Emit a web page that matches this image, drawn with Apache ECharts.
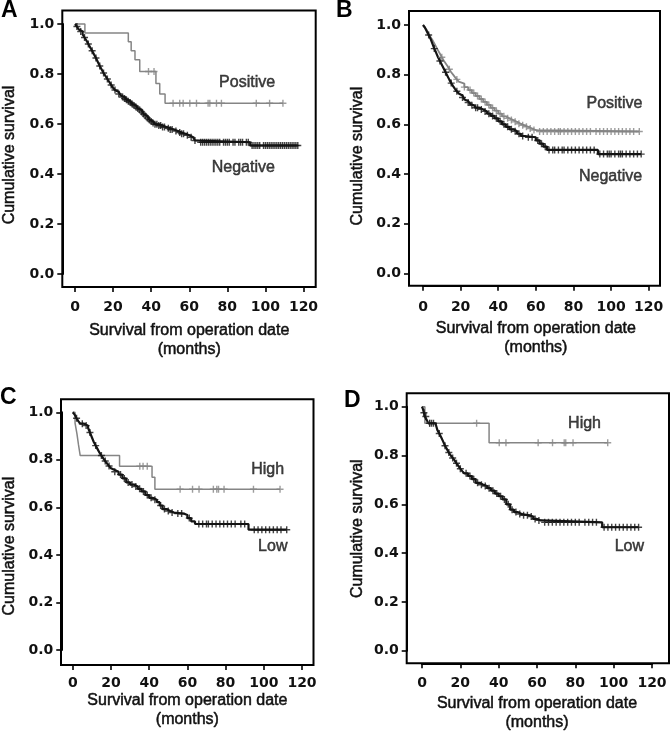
<!DOCTYPE html>
<html><head><meta charset="utf-8">
<script src="https://cdn.jsdelivr.net/npm/echarts@6/dist/echarts.min.js"></script>
<style>html,body{margin:0;padding:0;background:#fff}#c{width:670px;height:734px}</style>
</head><body><div id="c"></div>
<script>
// ---------- data ----------
const panelLetters = ['A', 'B', 'C', 'D'];
const xTickMin = 0, xTickMax = 120, xTickStep = 20;
const yTickMin = 0, yTickMax = 1, yTickStep = 0.2;
const xTitle = 'Survival from operation date\n(months)';
const yTitle = 'Cumulative survival';
const groupNames = [['Positive', 'Negative'], ['Positive', 'Negative'], ['High', 'Low'], ['High', 'Low']];
const pValues = ['0.103', '0.214', '0.351', '0.043'];

// Panel A
const aNegEvents = [[0,1],[0.5,0.995],[1,0.99],[1.5,0.985],[2,0.978],[3,0.97],[4,0.958],[5,0.946],[6,0.934],[7,0.92],[8,0.906],[9,0.893],[10,0.878],[11,0.864],[12,0.848],[13,0.832],[14,0.818],[15,0.804],[16,0.792],[17,0.78],[18,0.768],[19,0.756],[20,0.745],[21,0.736],[22,0.728],[23,0.72],[24,0.714],[25,0.708],[26,0.702],[27,0.697],[28,0.691],[29,0.686],[30,0.68],[31,0.674],[32,0.668],[33,0.662],[34,0.656],[35,0.648],[36,0.64],[37,0.632],[38,0.624],[39,0.617],[40,0.61],[41,0.604],[42,0.599],[44,0.594],[46,0.588],[48,0.583],[50,0.578],[52,0.572],[54,0.566],[56,0.561],[58,0.555],[60,0.547],[62,0.54],[63,0.534],[65,0.527],[92,0.514]];
const aNegCensor = [1,3,5,7,9,11,13,15,17,19,21,23,25,26,27,28,29,30,31,32,33,34,35,36,37,38,39,40,41,42,43,44,45,46,47,49,50,51,53,55,56,57,59,61,63,66,67,68,69,70,71,72,73,74,75,76,78,79,80,81,83,84,86,87,88,90,91,93,94,95,96,97,99,100,101,102,103,104,105,106,107,108,109,110,111,112,113,114,115,116,117];
const aPosEvents = [[0,1],[5.2,0.964],[28,0.929],[29.5,0.893],[31.5,0.857],[34,0.81],[42.5,0.762],[44.5,0.72],[47.3,0.683]];
const aPosCensor = [38.6,41.5,51.5,55,56.8,60.3,63.8,69.9,70.8,74.3,76.9,95.2,102.2,109.2];

// Panel B
const bNegEvents = [[0,1],[1,0.99],[2,0.975],[3,0.96],[4,0.945],[5,0.925],[6,0.905],[7,0.888],[8,0.87],[9,0.855],[10,0.84],[11,0.825],[12,0.81],[13,0.795],[14,0.78],[15,0.766],[16,0.754],[17,0.743],[18,0.733],[19,0.724],[20,0.716],[21,0.708],[22,0.7],[23,0.694],[24,0.688],[25,0.682],[26,0.677],[27,0.672],[28,0.667],[30,0.66],[32,0.652],[34,0.643],[36,0.634],[38,0.624],[40,0.612],[42,0.6],[44,0.59],[46,0.58],[48,0.572],[50,0.562],[52,0.553],[54,0.548],[60,0.535],[62,0.522],[64,0.51],[66,0.497],[93,0.48]];
const bNegCensor = [3,6,9,12,15,18,21,24,26,28,29,31,33,35,37,39,41,43,45,47,49,51,53,56,58,61,63,65,67,69,70,72,74,75,77,79,81,83,85,87,89,91,94,96,98,99,100,102,104,105,106,108,110,112,114,116];
const bPosEvents = [[0,1],[1,0.99],[2,0.98],[3,0.965],[4,0.952],[5,0.94],[6,0.926],[7,0.912],[8,0.898],[9,0.884],[10,0.87],[11,0.857],[12,0.846],[13,0.835],[14,0.822],[15,0.81],[16,0.8],[17,0.79],[18,0.781],[19,0.772],[20,0.764],[22,0.75],[24,0.738],[26,0.726],[28,0.714],[30,0.702],[32,0.69],[34,0.678],[36,0.666],[38,0.655],[40,0.643],[42,0.632],[44,0.624],[46,0.617],[48,0.61],[50,0.602],[52,0.596],[54,0.59],[56,0.583],[58,0.577],[60,0.571]];
const bPosCensor = [10,14,18,22,25,27,29,31,33,35,37,39,41,43,45,47,49,51,53,55,57,59,62,64,66,68,70,72,73,75,77,79,81,83,85,87,89,92,94,96,98,100,102,104,106,108,110,112,115];

// Panel C
const cLowEvents = [[0,1],[1,0.99],[2,0.975],[3,0.962],[4,0.952],[6,0.944],[8,0.935],[9,0.915],[10,0.895],[11,0.875],[12,0.86],[13,0.845],[14,0.83],[15,0.818],[16,0.806],[17,0.795],[18,0.784],[19,0.774],[20,0.765],[21,0.757],[22,0.75],[24,0.738],[26,0.722],[28,0.705],[30,0.696],[32,0.688],[34,0.678],[36,0.667],[38,0.652],[40,0.64],[42,0.632],[44,0.622],[45.5,0.608],[47,0.593],[49,0.585],[51,0.578],[53,0.574],[58,0.568],[60,0.555],[62,0.541],[64,0.53],[92,0.506]];
const cLowCensor = [2,5,7,9,12,15,17,19,22,25,27,29,31,33,35,37,39,41,43,46,48,50,52,55,57,61,66,68,70,71,73,75,77,79,81,83,85,88,90,95,97,99,101,103,105,107,109,112];
const cHighEvents = [[0,1],[1.2,0.955],[2.2,0.909],[3,0.864],[3.9,0.818],[24.5,0.773],[41.5,0.727],[43,0.676]];
const cHighCensor = [35.1,36.8,39,56.2,62.7,66.1,73.6,75.4,76.3,79.2,94.6,108.5];

// Panel D
const dLowEvents = [[0,1],[0.5,0.99],[1,0.975],[1.5,0.96],[2.5,0.945],[3.3,0.932],[7,0.925],[8,0.905],[9,0.89],[10,0.875],[11,0.858],[12,0.84],[13,0.826],[14,0.812],[15,0.8],[16,0.79],[17,0.78],[18,0.768],[19,0.757],[20,0.746],[21,0.736],[22,0.727],[24,0.716],[26,0.703],[28,0.688],[30,0.68],[32,0.675],[34,0.666],[36,0.656],[38,0.644],[40,0.633],[42,0.62],[44,0.6],[46,0.578],[48,0.568],[50,0.56],[52,0.555],[56,0.55],[58,0.54],[60,0.534],[62,0.526],[94,0.506]];
const dLowCensor = [1,2,4,5,6,9,12,14,16,18,20,23,25,27,29,31,33,35,37,39,41,43,45,47,49,51,53,55,57,59,61,64,66,68,70,72,74,76,78,80,82,85,87,89,91,95,97,99,101,103,105,107,109,111,113];
const dHighEvents = [[0,1],[1.5,0.932],[35,0.852]];
const dHighCensor = [4,28.5,40.3,43.8,60.6,68.1,74.2,75,78.8,96.9];

// ---------- layout & style ----------
const FRAMES = [ // outer box of each panel (px)
  {l:62.3, t:10.5, r:315.7, b:287},
  {l:409, t:11, r:660, b:285.7},
  {l:61, t:399.3, r:313.5, b:665},
  {l:406.7, t:393.3, r:669, b:663.3}
];
const PLOTS = [ // pixel span of the 0..120 x 0..1 tick range
  {l:75, t:24, r:303.5, b:274},
  {l:423, t:25, r:648.7, b:273.3},
  {l:72.5, t:412.3, r:302, b:650},
  {l:422, t:406.7, r:652, b:650.7}
];
const LAYOUT = [
  {xLabelMargin:13, xNameGap:34, yNameGap:45, yNameShift:12, letter:{x:1,y:-1}, labels:[[90.4,0.765],[88.4,0.427]], pPos:[120.5,0.036]},
  {xLabelMargin:15, xNameGap:33, yNameGap:43, yNameShift:14, letter:{x:336,y:-1}, labels:[[101.8,0.682],[99.7,0.389]], pPos:[125.5,0.0]},
  {xLabelMargin:11, xNameGap:26, yNameGap:44, yNameShift:30, letter:{x:0,y:386}, labels:[[102,0.757],[104.7,0.435]], pPos:[121.5,0.014]},
  {xLabelMargin:13, xNameGap:31, yNameGap:41, yNameShift:0, letter:{x:344,y:389}, labels:[[84.8,0.932],[108.2,0.426]], pPos:[124.5,0.016]}
];
const BLACK = '#141414', GRAY = '#858585';
const NUM_FONT = 'DejaVu Sans', TXT_FONT = 'Liberation Sans';
const heavy = {textBorderColor:'#111', textBorderWidth:0.5};

const curves = [
  [{ev:aPosEvents, cen:aPosCensor, color:GRAY, w:1.5}, {ev:aNegEvents, cen:aNegCensor, color:BLACK, w:2.2}],
  [{ev:bPosEvents, cen:bPosCensor, color:GRAY, w:1.8}, {ev:bNegEvents, cen:bNegCensor, color:BLACK, w:2.2}],
  [{ev:cHighEvents, cen:cHighCensor, color:GRAY, w:1.5}, {ev:cLowEvents, cen:cLowCensor, color:BLACK, w:2.2}],
  [{ev:dHighEvents, cen:dHighCensor, color:GRAY, w:1.5}, {ev:dLowEvents, cen:dLowCensor, color:BLACK, w:2.2}]
];

function survAt(ev, t) {
  let s = ev[0][1];
  for (const p of ev) { if (p[0] <= t) s = p[1]; else break; }
  return s;
}
const PLUS = 'path://M-1,-5H1V-1H5V1H1V5H-1V1H-5V-1H-1Z';

const grid = [], xAxis = [], yAxis = [], series = [], title = [];
FRAMES.forEach((f, i) => {
  const p = PLOTS[i], L = LAYOUT[i];
  // frame grid (index 2i)
  grid.push({left:f.l, top:f.t, width:f.r - f.l, height:f.b - f.t, show:true, borderColor:'#000', borderWidth:2, backgroundColor:'transparent', containLabel:false});
  xAxis.push({gridIndex:2*i, type:'value', show:false, min:0, max:1});
  yAxis.push({gridIndex:2*i, type:'value', show:false, min:0, max:1});
  // tick/plot grid (index 2i+1)
  grid.push({left:p.l, top:p.t, width:p.r - p.l, height:p.b - p.t, show:false, containLabel:false});
  xAxis.push({
    gridIndex:2*i+1, type:'value', min:xTickMin, max:xTickMax, interval:xTickStep,
    position:'bottom', offset:f.b - p.b,
    axisLine:{show:true, onZero:false, lineStyle:{color:'#000', width:2}}, splitLine:{show:false},
    axisTick:{show:true, inside:false, length:5, lineStyle:{color:'#000', width:1.6}},
    axisLabel:{margin:L.xLabelMargin, color:'#111', fontFamily:NUM_FONT, fontWeight:'bold', fontSize:14, showMinLabel:true, showMaxLabel:true},
    name:xTitle, nameLocation:'middle', nameGap:L.xNameGap,
    nameTextStyle:Object.assign({color:'#111', fontFamily:TXT_FONT, fontSize:16, lineHeight:19}, heavy)
  });
  yAxis.push({
    gridIndex:2*i+1, type:'value', min:yTickMin, max:yTickMax, interval:yTickStep,
    position:'left', offset:p.l - f.l,
    axisLine:{show:true, onZero:false, lineStyle:{color:'#000', width:2}}, splitLine:{show:false},
    axisTick:{show:true, inside:false, length:5, lineStyle:{color:'#000', width:1.6}},
    axisLabel:{margin:8, color:'#111', fontFamily:NUM_FONT, fontWeight:'bold', fontSize:14, formatter:v => v.toFixed(1), showMinLabel:true, showMaxLabel:true},
    name:yTitle, nameLocation:'middle', nameGap:L.yNameGap,
    nameTextStyle:Object.assign({color:'#111', fontFamily:TXT_FONT, fontSize:16, padding:[0, L.yNameShift, 0, 0]}, heavy)
  });
  // curves
  curves[i].forEach(c => {
    const last = c.ev[c.ev.length - 1];
    const maxC = Math.max(...c.cen);
    const lineData = c.ev.slice();
    if (maxC > last[0]) lineData.push([maxC, last[1]]);
    series.push({type:'line', xAxisIndex:2*i+1, yAxisIndex:2*i+1, step:'end', data:lineData, showSymbol:false, clip:false,
      lineStyle:{color:c.color, width:c.w}, silent:true, animation:false, z:3});
    series.push({type:'scatter', xAxisIndex:2*i+1, yAxisIndex:2*i+1, data:c.cen.map(t => [t, survAt(c.ev, t)]),
      symbol:PLUS, symbolSize:7, itemStyle:{color:c.color}, clip:false, silent:true, animation:false, z:4});
  });
  // group labels
  series.push({type:'scatter', xAxisIndex:2*i+1, yAxisIndex:2*i+1, symbolSize:0, silent:true, animation:false,
    data:L.labels.map((pos, k) => ({value:pos, name:groupNames[i][k]})),
    label:Object.assign({show:true, position:'inside', formatter:'{b}', color:'#111', fontFamily:TXT_FONT, fontSize:16}, heavy)});
  // p value
  series.push({type:'scatter', xAxisIndex:2*i+1, yAxisIndex:2*i+1, symbolSize:0, silent:true, animation:false,
    data:[{value:L.pPos, name:pValues[i]}],
    label:{show:true, position:'inside', align:'right', formatter:'{i|P}=' + pValues[i], color:'#111', fontFamily:NUM_FONT, fontWeight:'bold', fontSize:14,
      rich:{i:{fontStyle:'italic', fontFamily:NUM_FONT, fontWeight:'bold', fontSize:14, color:'#111'}}}});
  title.push({text:panelLetters[i], left:L.letter.x, top:L.letter.y, padding:0,
    textStyle:{fontFamily:TXT_FONT, fontWeight:'bold', fontSize:23, color:'#000'}});
});

const chart = echarts.init(document.getElementById('c'), null, {renderer:'canvas'});
chart.setOption({animation:false, backgroundColor:'#fff', title, grid, xAxis, yAxis, series});
</script></body></html>
